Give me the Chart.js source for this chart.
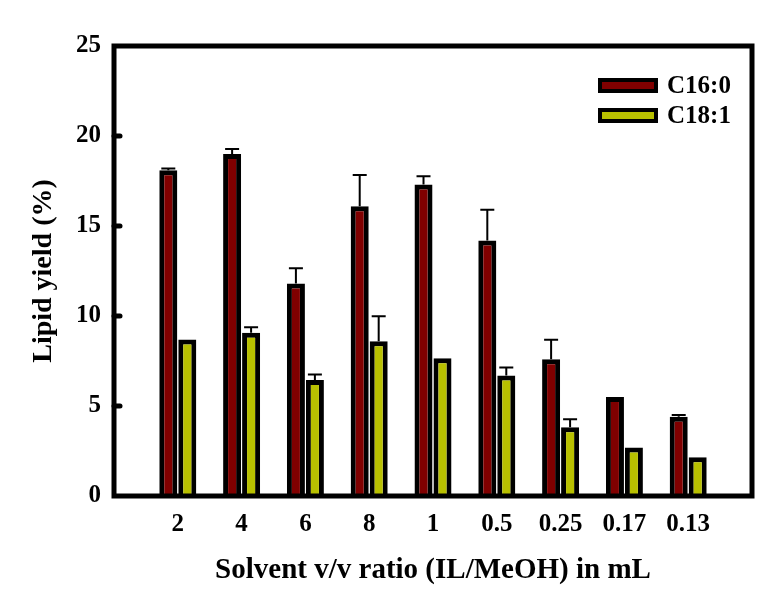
<!DOCTYPE html>
<html>
<head>
<meta charset="utf-8">
<script src="https://cdn.jsdelivr.net/npm/chart.js@4.4.0/dist/chart.umd.min.js"></script>
<style>
  html, body { margin: 0; padding: 0; background: #fff; }
  #wrap { width: 773px; height: 590px; }
</style>
</head>
<body>
<div id="wrap"><canvas id="c" width="773" height="590"></canvas></div>
<script>
// ---- data ----
const categories = ['2', '4', '6', '8', '1', '0.5', '0.25', '0.17', '0.13'];
const seriesNames = ['C16:0', 'C18:1'];
const c16 = [18.1, 19.0, 11.8, 16.1, 17.3, 14.2, 7.6, 5.5, 4.4];
const c16Err = [0.1, 0.28, 0.85, 1.73, 0.46, 1.7, 1.08, 0, 0.1];
const c18 = [8.7, 9.07, 6.45, 8.6, 7.65, 6.7, 3.82, 2.7, 2.15];
const c18Err = [0, 0.3, 0.3, 1.39, 0, 0.44, 0.44, 0, 0];
const yTicks = [0, 5, 10, 15, 20, 25];
const colors = ['#800000', '#B8C000'];

const FONT = '"Liberation Serif", "Times New Roman", serif';

// pad categories with an empty slot at each side (axis runs 0..10)
const labels = [''].concat(categories, ['']);
const pad = arr => [null].concat(arr, [null]);
const errs = [pad(c16Err), pad(c18Err)];

const framePlugin = {
  id: 'frame',
  afterDatasetsDraw(chart) {
    const ctx = chart.ctx;
    const y = chart.scales.y;
    ctx.save();
    ctx.strokeStyle = '#000';
    ctx.lineWidth = 2;
    chart.data.datasets.forEach((ds, di) => {
      const meta = chart.getDatasetMeta(di);
      meta.data.forEach((el, i) => {
        const v = ds.data[i];
        const e = errs[di][i];
        if (v == null || !e) return;
        const yTop = el.y;
        const yCap = y.getPixelForValue(v + e);
        ctx.beginPath();
        ctx.moveTo(el.x, yTop);
        ctx.lineTo(el.x, yCap);
        ctx.moveTo(el.x - 7, yCap);
        ctx.lineTo(el.x + 7, yCap);
        ctx.stroke();
      });
    });
    ctx.restore();
  },
  afterDraw(chart) {
    const ctx = chart.ctx;
    const a = chart.chartArea;
    const y = chart.scales.y;
    ctx.save();
    ctx.strokeStyle = '#000';
    ctx.lineWidth = 5;
    ctx.strokeRect(a.left, a.top, a.right - a.left, a.bottom - a.top);
    // inward ticks
    ctx.lineCap = 'round';
    yTicks.forEach(t => {
      if (t === yTicks[0] || t === yTicks[yTicks.length - 1]) return;
      const py = y.getPixelForValue(t);
      ctx.beginPath();
      ctx.moveTo(a.left, py);
      ctx.lineTo(a.left + 6, py);
      ctx.stroke();
    });
    // legend
    ctx.lineCap = 'butt';
    ctx.font = 'bold 25px ' + FONT;
    ctx.textBaseline = 'middle';
    ctx.textAlign = 'left';
    chart.data.datasets.forEach((ds, di) => {
      const bx = 600, by = 80 + di * 30, bw = 56, bh = 11;
      ctx.fillStyle = ds.backgroundColor;
      ctx.lineWidth = 4;
      ctx.fillRect(bx, by, bw, bh);
      ctx.strokeRect(bx, by, bw, bh);
      ctx.fillStyle = '#000';
      ctx.fillText(ds.label, 667, by + bh / 2 + 1);
    });
    ctx.restore();
  }
};

new Chart(document.getElementById('c'), {
  type: 'bar',
  data: {
    labels: labels,
    datasets: [
      { label: seriesNames[0], data: pad(c16), backgroundColor: colors[0], borderColor: '#000', borderWidth: 5 },
      { label: seriesNames[1], data: pad(c18), backgroundColor: colors[1], borderColor: '#000', borderWidth: 5 }
    ]
  },
  options: {
    responsive: false,
    animation: false,
    devicePixelRatio: 1,
    categoryPercentage: 0.595,
    barPercentage: 0.95,
    layout: { padding: { left: 0, top: 46, right: 21, bottom: 0 } },
    plugins: { legend: { display: false }, tooltip: { enabled: false } },
    scales: {
      x: {
        offset: false,
        grid: { display: false, drawTicks: false },
        border: { display: false },
        ticks: {
          color: '#000', padding: 14, autoSkip: false, maxRotation: 0,
          font: { family: FONT, size: 25, weight: 'bold' }
        },
        title: {
          display: true, text: 'Solvent v/v ratio (IL/MeOH) in mL', color: '#000',
          font: { family: FONT, size: 29, weight: 'bold' }, padding: { top: 0, bottom: 2 }
        },
        afterFit(s) { s.height = 94; }
      },
      y: {
        min: 0, max: 25,
        afterBuildTicks(s) { s.ticks = yTicks.map(v => ({ value: v })); },
        grid: { display: false, drawTicks: false },
        border: { display: false },
        ticks: {
          color: '#000', padding: 13,
          font: { family: FONT, size: 25, weight: 'bold' }
        },
        title: {
          display: true, text: 'Lipid yield (%)', color: '#000',
          font: { family: FONT, size: 28, weight: 'bold' }, padding: { top: 27, bottom: 0 }
        },
        afterFit(s) { s.width = 114; }
      }
    }
  },
  plugins: [framePlugin]
});
</script>
</body>
</html>
